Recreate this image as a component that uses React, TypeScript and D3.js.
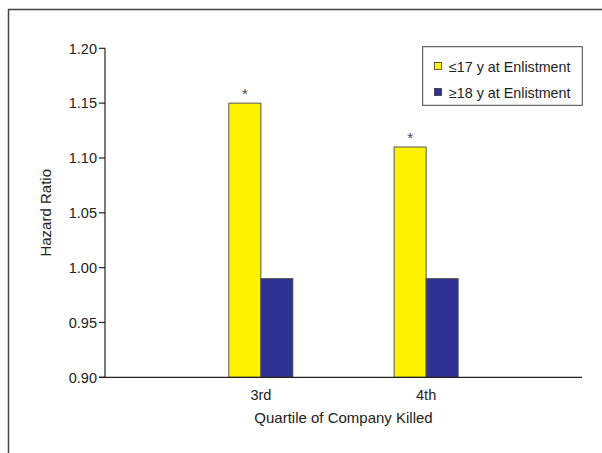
import React from "react";
import * as d3 from "d3";

const categories = ["3rd", "4th"];
const seriesNames = ["≤17 y at Enlistment", "≥18 y at Enlistment"];
const young = [1.15, 1.11];
const older = [0.99, 0.99];
const significant = [true, true];
const yTicks = [0.9, 0.95, 1.0, 1.05, 1.1, 1.15, 1.2];
const colors = ["#FFF200", "#2E3192"];

const FONT = "'Liberation Sans', Arial, Helvetica, sans-serif";

export default function App() {
  const W = 602, H = 453;
  const x0 = 105, x1 = 582, yTop = 48.3, yBot = 377.3;
  const y = d3.scaleLinear().domain([0.9, 1.2]).range([yBot, yTop]);
  const x = d3.scalePoint<string>().domain(categories).range([x0, x1]).padding(0.943);
  const barW = 32;
  const series = [young, older];
  return (
    <svg width={W} height={H} style={{ position: "absolute", left: 0, top: 0, display: "block", background: "#fff" }} fontFamily={FONT}>
      <rect x={8.5} y={9.5} width={W + 20} height={H + 20} fill="none" stroke="#444" strokeWidth={1.5} />
      {categories.map((c, i) => (
        <g key={c}>
          {series.map((s, j) => {
            const bx = (x(c) as number) + (j - 1) * barW;
            return (
              <rect key={j} x={bx} y={y(s[i])} width={barW} height={yBot - y(s[i])}
                fill={colors[j]} stroke="#555" strokeWidth={1} />
            );
          })}
          {significant[i] && (
            <text x={(x(c) as number) - barW / 2} y={y(young[i]) - 4} textAnchor="middle" fontSize={15} fill="#444">*</text>
          )}
          <text x={x(c) as number} y={400} textAnchor="middle" fontSize={14.5} fill="#222">{c}</text>
        </g>
      ))}
      <line x1={x0} x2={x0} y1={yTop} y2={yBot} stroke="#222" strokeWidth={1.2} />
      {yTicks.map((t) => (
        <g key={t}>
          <line x1={x0 - 6} x2={x0} y1={y(t)} y2={y(t)} stroke="#222" strokeWidth={1.2} />
          <text x={x0 - 8} y={y(t)} dy="0.36em" textAnchor="end" fontSize={14.5} fill="#222">{d3.format(".2f")(t)}</text>
        </g>
      ))}
      <line x1={x0 - 6} x2={x1} y1={yBot} y2={yBot} stroke="#222" strokeWidth={1.2} />
      <text x={(x0 + x1) / 2} y={422.5} textAnchor="middle" fontSize={15} fill="#222">Quartile of Company Killed</text>
      <text transform={`translate(51,${(yTop + yBot) / 2}) rotate(-90)`} textAnchor="middle" fontSize={15} fill="#222">Hazard Ratio</text>
      <rect x={422.7} y={46.7} width={159.6} height={58.6} fill="#fff" stroke="#444" strokeWidth={1} />
      {seriesNames.map((n, j) => (
        <g key={n}>
          <rect x={434.5} y={62.5 + j * 26} width={7} height={7} fill={colors[j]} stroke="#333" strokeWidth={0.8} />
          <text x={449} y={72 + j * 26} fontSize={14.3} fill="#222">{n}</text>
        </g>
      ))}
    </svg>
  );
}
